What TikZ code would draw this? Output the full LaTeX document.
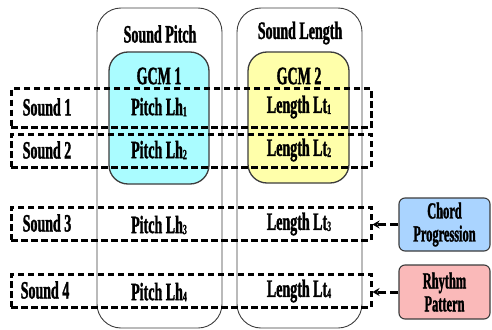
\documentclass[tikz,border=0pt]{standalone}
\usepackage{fontspec}
\setmainfont{Liberation Serif}[FakeStretch=0.56, BoldFeatures={FakeBold=1.3}]
\newfontfamily\narrowfont{Liberation Serif}[FakeStretch=0.54, BoldFeatures={FakeBold=1.3}]
\usetikzlibrary{arrows.meta}
\definecolor{cyanfill}{RGB}{170,252,255}
\definecolor{yellowfill}{RGB}{255,255,170}
\definecolor{bluefill}{RGB}{170,212,255}
\definecolor{pinkfill}{RGB}{250,185,185}
\definecolor{edgegray}{RGB}{60,60,60}
\newcommand{\sub}[1]{\raisebox{-1pt}{\fontsize{14}{14}\selectfont #1}}
\tikzset{
  outerbox/.style={draw=edgegray, line width=0.9pt, rounded corners=24pt, inner sep=0pt},
  gcmbox/.style={draw=edgegray, line width=1.3pt, rounded corners=19pt, inner sep=0pt},
  rowbox/.style={draw=black, line width=3pt, dash pattern=on 6.5pt off 3.5pt, inner sep=0pt, minimum width=360pt},
  srcbox/.style={draw=edgegray, line width=1.1pt, rounded corners=6pt, inner sep=0pt, minimum width=91pt, align=center, font=\fontsize{23}{23}\selectfont\bfseries\narrowfont},
  lbl/.style={inner sep=0pt, font=\fontsize{25}{25}\selectfont\bfseries},
  feed/.style={draw=black, line width=3pt, dash pattern=on 8pt off 4pt, -{Stealth[length=7pt,width=8pt]}}
}
\begin{document}
\begin{tikzpicture}[x=1pt,y=-1pt]
\useasboundingbox (0,0) rectangle (492,329);
% outer boxes
\node[outerbox, minimum width=125pt, minimum height=320pt] (pitchcol) at (159.5,168) {};
\node[outerbox, minimum width=125pt, minimum height=320pt] (lengthcol) at (299.5,168) {};
% GCM boxes
\node[gcmbox, fill=cyanfill, minimum width=100pt, minimum height=132pt] (gcm1) at (159,118) {};
\node[gcmbox, fill=yellowfill, minimum width=101pt, minimum height=131pt] (gcm2) at (298.5,117.5) {};
% dashed rows
\node[rowbox, minimum height=39pt] (row1) at (191,108) {};
\node[rowbox, minimum height=33pt] (row2) at (191,150.5) {};
\node[rowbox, minimum height=33pt] (row3) at (191,223.5) {};
\node[rowbox, minimum height=33pt] (row4) at (191,290.5) {};
% source boxes
\node[srcbox, fill=bluefill, minimum height=53pt] (chord) at (444.5,224.5) {Chord\\Progression};
\node[srcbox, fill=pinkfill, minimum height=54pt] (rhythm) at (444.5,292) {Rhythm\\Pattern};
% labels
\node[lbl] (tpitch) at (160,34) {Sound Pitch};
\node[lbl] (tlength) at (300,33) {Sound Length};
\node[lbl] (tgcm1) at (159,76) {GCM 1};
\node[lbl] (tgcm2) at (299,76) {GCM 2};
\node[lbl] (ts1) at (47,107) {Sound 1};
\node[lbl] (ts2) at (47,150) {Sound 2};
\node[lbl] (ts3) at (47,223) {Sound 3};
\node[lbl] (ts4) at (45,290) {Sound 4};
\node[lbl] (p1) at (159,107) {Pitch Lh\sub{1}};
\node[lbl] (p2) at (159,150) {Pitch Lh\sub{2}};
\node[lbl] (p3) at (159,225) {Pitch Lh\sub{3}};
\node[lbl] (p4) at (159,292) {Pitch Lh\sub{4}};
\node[lbl] (l1) at (299,107) {Length Lt\sub{1}};
\node[lbl] (l2) at (299,150) {Length Lt\sub{2}};
\node[lbl] (l3) at (299,224) {Length Lt\sub{3}};
\node[lbl] (l4) at (299,291) {Length Lt\sub{4}};
% feeds
\draw[feed] (chord.west) -- (chord.west -| row3.east);
\draw[feed] (rhythm.west) -- (rhythm.west -| row4.east);
\end{tikzpicture}
\end{document}
